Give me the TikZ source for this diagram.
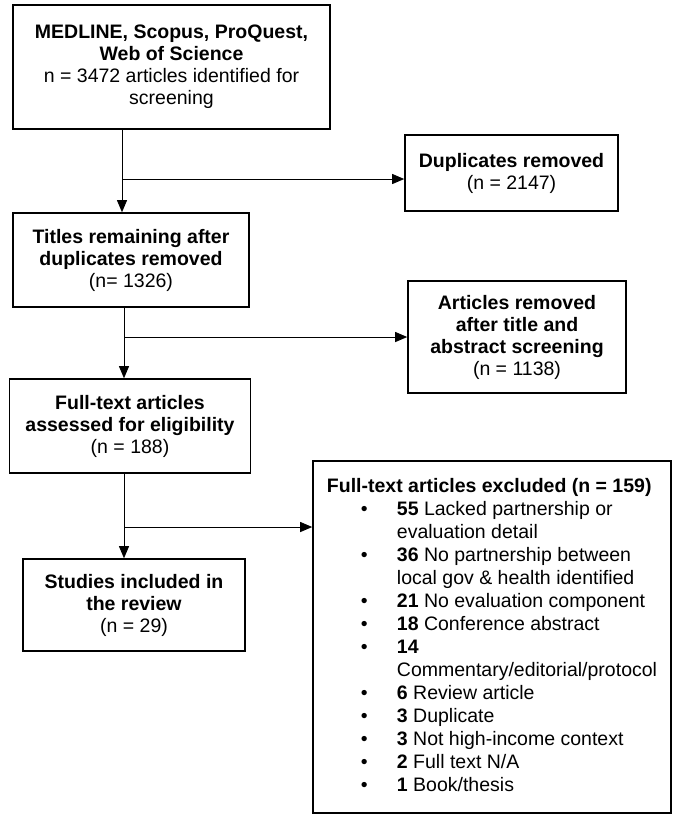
\documentclass[tikz,border=0pt]{standalone}
\usepackage{fontspec}
\setmainfont{Liberation Sans}
\usetikzlibrary{arrows.meta}
\tikzset{
  box/.style={draw, line width=1.6pt, align=center, inner sep=0pt},
  flow/.style={line width=0.9pt, -{Triangle[length=12pt,width=10pt]}},
}
\begin{document}
\begin{tikzpicture}[x=1pt,y=1pt,yscale=-1,xscale=1,font=\fontsize{19.5}{22}\selectfont]
\useasboundingbox (0,0) rectangle (677,831);

%Shape: Rectangle [search]
\node[box, minimum width=317, minimum height=124] (src) at (171.5,67)
  {\textbf{MEDLINE, Scopus, ProQuest,}\\ \textbf{Web of Science}\\ n = 3472 articles identified for\\ screening};
%Shape: Rectangle [duplicates]
\node[box, minimum width=213, minimum height=76] (dup) at (511.5,173)
  {\textbf{Duplicates removed}\\ (n = 2147)};
%Shape: Rectangle [titles]
\node[box, minimum width=236, minimum height=94] (titles) at (131,260)
  {\textbf{Titles remaining after}\\ \textbf{duplicates removed}\\ (n= 1326)};
%Shape: Rectangle [abstract screening]
\node[box, minimum width=218, minimum height=112] (abs) at (517,337)
  {\textbf{Articles removed}\\ \textbf{after title and}\\ \textbf{abstract screening}\\ (n = 1138)};
%Shape: Rectangle [full text]
\node[box, minimum width=241, minimum height=94] (full) at (130,426)
  {\textbf{Full-text articles}\\ \textbf{assessed for eligibility}\\ (n = 188)};
%Shape: Rectangle [included]
\node[box, minimum width=222, minimum height=92] (incl) at (134,605)
  {\textbf{Studies included in}\\ \textbf{the review}\\ (n = 29)};
%Shape: Rectangle [excluded]
\node[box, minimum width=358, minimum height=352, align=left] (excl) at (492,637)
  {\fontsize{19.5}{23}\selectfont
   \begin{tabular}{@{\hspace{34pt}}p{36pt}@{}l@{}}
   \multicolumn{2}{@{}l@{}}{\textbf{Full-text articles excluded (n = 159)}}\\
   \textbullet & \textbf{55} Lacked partnership or\\
               & evaluation detail\\
   \textbullet & \textbf{36} No partnership between\\
               & local gov \& health identified\\
   \textbullet & \textbf{21} No evaluation component\\
   \textbullet & \textbf{18} Conference abstract\\
   \textbullet & \textbf{14}\\
               & Commentary/editorial/protocol\\
   \textbullet & \textbf{6} Review article\\
   \textbullet & \textbf{3} Duplicate\\
   \textbullet & \textbf{3} Not high-income context\\
   \textbullet & \textbf{2} Full text N/A\\
   \textbullet & \textbf{1} Book/thesis
   \end{tabular}};

% Junctions
\coordinate (j1) at (122,179);
\coordinate (j2) at (124,337);
\coordinate (j3) at (124,527);

%Straight Lines
\draw[flow] (j1 |- src.south) -- (j1 |- titles.north);
\draw[flow] (j1) -- (j1 -| dup.west);
%Straight Lines
\draw[flow] (j2 |- titles.south) -- (j2 |- full.north);
\draw[flow] (j2) -- (j2 -| abs.west);
%Straight Lines
\draw[flow] (j3 |- full.south) -- (j3 |- incl.north);
\draw[flow] (j3) -- (j3 -| excl.west);

\end{tikzpicture}
\end{document}
